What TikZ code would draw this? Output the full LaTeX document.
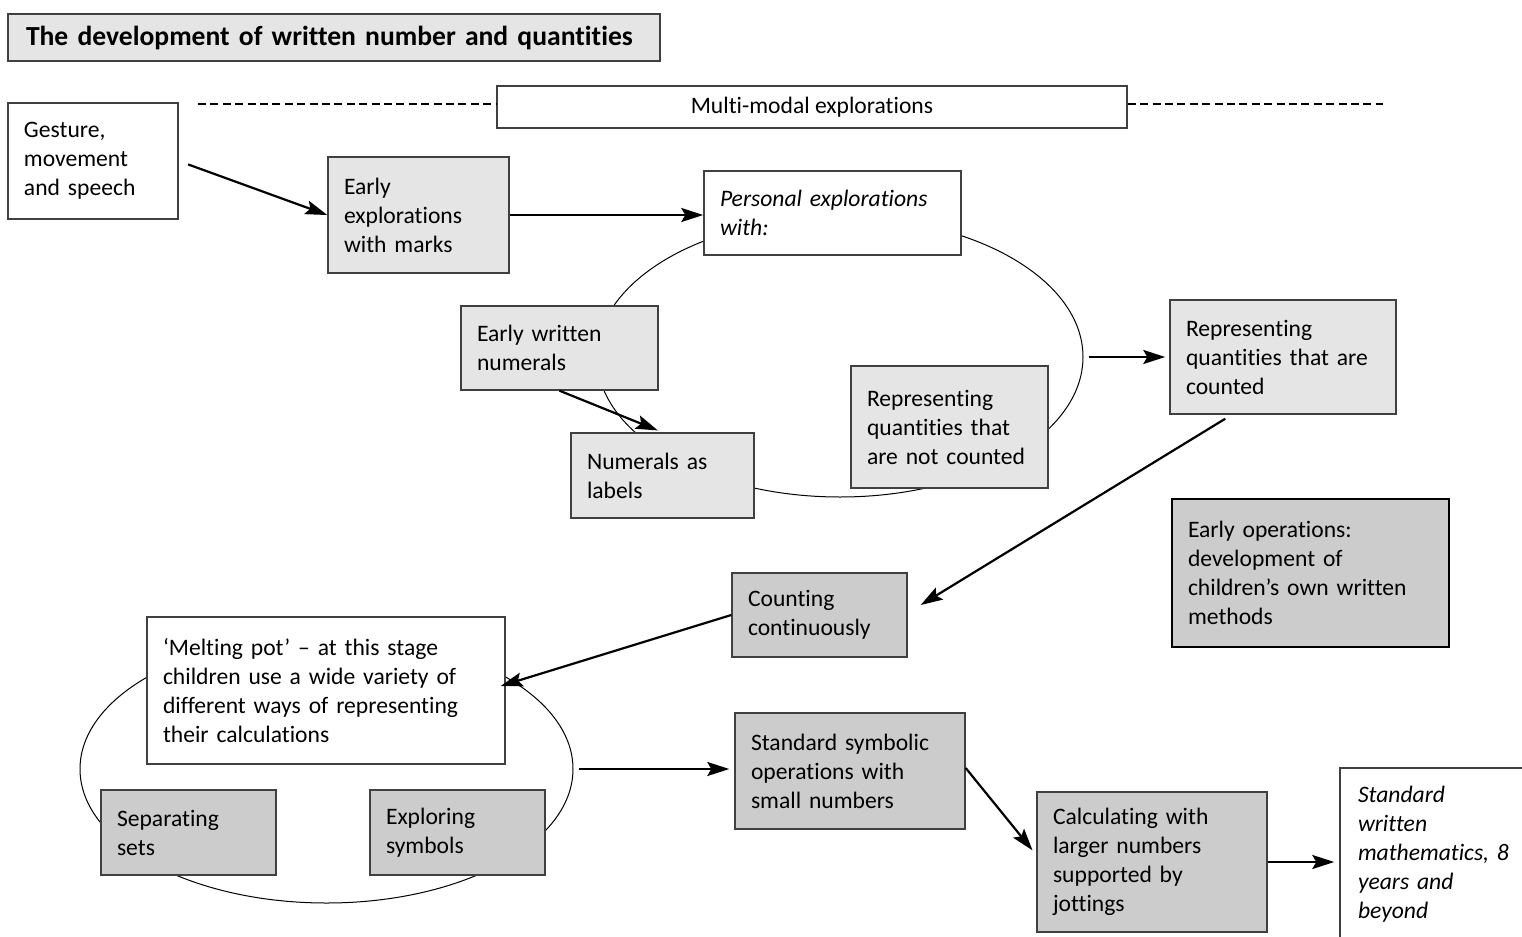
\documentclass[tikz,border=0pt]{standalone}
\usepackage{fontspec}
\setmainfont{Carlito}[Ligatures={TeX,NoCommon}]
\usetikzlibrary{arrows.meta,shapes.geometric,calc}
\definecolor{boxLight}{gray}{0.9}
\definecolor{boxDark}{gray}{0.8}
\definecolor{edgeGray}{gray}{0.25}

\begin{document}
\begin{tikzpicture}[
  x=0.5pt, y=-0.5pt,
  font=\fontsize{11.8}{14.5}\selectfont,
  bx/.style={draw=edgeGray, line width=0.7pt, inner xsep=8pt, inner ysep=4pt, align=left},
  wbox/.style={bx, fill=white},
  lbox/.style={bx, fill=boxLight},
  dbox/.style={bx, fill=boxDark},
  loop/.style={draw, ellipse, line width=0.5pt, inner sep=0pt},
  arr/.style={-{Stealth[length=11pt, width=7pt, inset=2pt]}, line width=1.1pt},
]
\useasboundingbox (0,0) rectangle (1522,937);
% loops behind the boxes
\node[loop, minimum width=243pt, minimum height=140pt] (loopA) at (840,357) {};
\node[loop, minimum width=246.5pt, minimum height=134pt] (loopB) at (326.5,769) {};
% heading and band
\node[lbox, text width=308pt, minimum height=23.5pt, inner xsep=9pt,
  font=\fontsize{13.8}{15}\selectfont\bfseries] (title) at (334,37.5)
  {The development of written number and quantities};
\node[wbox, minimum width=315pt, minimum height=21pt, align=center] (band) at (812,107)
  {Multi-modal explorations};
\coordinate (bandL) at (198,104);
\coordinate (bandR) at (1383,104);
\draw[line width=1pt, dash pattern=on 4pt off 2.2pt] (bandL) -- (bandL -| band.west);
\draw[line width=1pt, dash pattern=on 4pt off 2.2pt] (bandR -| band.east) -- (bandR);
% upper row
\node[wbox, text width=69pt, minimum height=58pt] (gest) at (93,161)
  {Gesture,\\movement\\and speech};
\node[lbox, text width=74.5pt, minimum height=58pt] (early) at (418.5,215)
  {Early\\explorations\\with marks};
\node[wbox, text width=112.5pt, minimum height=42pt, font=\fontsize{11.8}{14.5}\selectfont\itshape] (pers) at (832.5,213)
  {Personal explorations\\with:};
\node[lbox, text width=82.5pt, minimum height=42pt] (ewn) at (559.5,348)
  {Early written\\numerals};
\node[lbox, text width=75.5pt, minimum height=42.5pt] (nal) at (662.5,475.5)
  {Numerals as\\labels};
\node[lbox, text width=82.5pt, minimum height=61pt] (rnc) at (949.5,427)
  {Representing\\quantities that\\are not counted};
\node[lbox, text width=97pt, minimum height=57pt] (rc) at (1283,357)
  {Representing\\quantities that are\\counted};
\node[dbox, draw=black, line width=1.3pt, text width=122.5pt, minimum height=74pt] (eo) at (1310.5,573)
  {Early operations:\\development of\\children's own written\\methods};
% lower row
\node[dbox, text width=71.5pt, minimum height=42pt] (cc) at (819.5,615)
  {Counting\\continuously};
\node[wbox, text width=163pt, minimum height=73.5pt] (melt) at (326,690.5)
  {`Melting pot' -- at this stage\\children use a wide variety of\\different ways of representing\\their calculations};
\node[dbox, text width=71.5pt, minimum height=42.5pt] (sep) at (188.5,832.5)
  {Separating\\sets};
\node[dbox, text width=71.5pt, minimum height=42.5pt] (expl) at (457.5,832.5)
  {Exploring\\symbols};
\node[dbox, text width=99pt, minimum height=58pt] (ss) at (850,771)
  {Standard symbolic\\operations with\\small numbers};
\node[dbox, text width=99pt, minimum height=70pt] (calc) at (1152,862)
  {Calculating with\\larger numbers\\supported by\\jottings};
\node[wbox, text width=85pt, minimum height=86pt, inner xsep=9pt, font=\fontsize{11.8}{14.5}\selectfont\itshape] (sw) at (1443,854)
  {Standard\\written\\mathematics, 8\\years and\\beyond};
% connectors
\draw[arr, shorten <=5pt] (gest.east) -- (early.west);
\draw[arr] (early.east) -- (early.east -| pers.west);
\draw[arr, shorten >=2.5pt] (ewn.south) -- (nal.north);
\draw[arr, shorten <=2.5pt, shorten >=2pt] (loopA.east) -- (loopA.east -| rc.west);
\draw[arr] ([xshift=28pt,yshift=-2pt]rc.south west) -- ([xshift=6.5pt,yshift=5pt]cc.east);
\draw[arr] (cc.west) -- ([xshift=-2.5pt,yshift=2.25pt]melt.east);
\draw[arr, shorten <=2.5pt, shorten >=2.5pt] (loopB.east) -- (loopB.east -| ss.west);
\draw[arr, shorten >=3pt] ([yshift=1.5pt]ss.east) -- ([yshift=3.5pt]calc.west);
\draw[arr, shorten >=2.5pt] (calc.east) -- (calc.east -| sw.west);
\end{tikzpicture}
\end{document}
